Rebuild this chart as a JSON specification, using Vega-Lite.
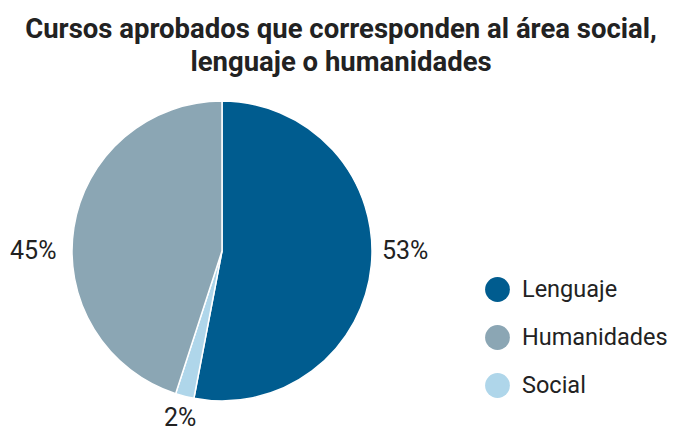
{
  "$schema": "https://vega.github.io/schema/vega-lite/v6.json",
  "autosize": "none",
  "width": 444,
  "height": 300,
  "padding": {"left": 0, "top": 101, "right": 229, "bottom": 29},
  "background": "white",
  "title": {
    "text": ["Cursos aprobados que corresponden al área social,", "lenguaje o humanidades"],
    "font": "Roboto",
    "fontSize": 27.5,
    "fontWeight": "bold",
    "color": "#222222",
    "anchor": "middle",
    "frame": "group",
    "dx": 119,
    "offset": 22,
    "lineHeight": 33
  },
  "data": {
    "values": [
      {"area": "Lenguaje", "pct": 53, "orden": 1, "label": "53%"},
      {"area": "Social", "pct": 2, "orden": 2, "label": "2%"},
      {"area": "Humanidades", "pct": 45, "orden": 3, "label": "45%"}
    ]
  },
  "encoding": {
    "theta": {"field": "pct", "type": "quantitative", "stack": true},
    "order": {"field": "orden", "type": "quantitative"},
    "color": {
      "field": "area",
      "type": "nominal",
      "scale": {
        "domain": ["Lenguaje", "Humanidades", "Social"],
        "range": ["#005c8f", "#8ba6b4", "#afd6ea"]
      },
      "legend": {
        "title": null,
        "orient": "none",
        "legendX": 485,
        "legendY": 176,
        "symbolType": "circle",
        "symbolSize": 615,
        "symbolStrokeWidth": 0,
        "labelFont": "Roboto",
        "labelFontSize": 23.5,
        "labelColor": "#222222",
        "labelOffset": 12,
        "rowPadding": 23,
        "padding": 0
      }
    }
  },
  "layer": [
    {
      "mark": {"type": "arc", "outerRadius": 150, "stroke": "white", "strokeWidth": 1.5}
    },
    {
      "mark": {"type": "text", "radius": 184, "dy": -17, "font": "Roboto", "fontSize": 25, "color": "#222222", "align": "center", "baseline": "middle"},
      "encoding": {"text": {"condition": {"test": "datum.area === 'Lenguaje'", "field": "label"}, "value": ""}, "color": {"value": "#222222"}}
    },
    {
      "mark": {"type": "text", "radius": 184, "dx": 4, "dy": -11, "font": "Roboto", "fontSize": 25, "color": "#222222", "align": "center", "baseline": "middle"},
      "encoding": {"text": {"condition": {"test": "datum.area === 'Social'", "field": "label"}, "value": ""}, "color": {"value": "#222222"}}
    },
    {
      "mark": {"type": "text", "radius": 184, "dx": -7, "dy": 29, "font": "Roboto", "fontSize": 25, "color": "#222222", "align": "center", "baseline": "middle"},
      "encoding": {"text": {"condition": {"test": "datum.area === 'Humanidades'", "field": "label"}, "value": ""}, "color": {"value": "#222222"}}
    }
  ],
  "config": {"view": {"stroke": null}}
}
